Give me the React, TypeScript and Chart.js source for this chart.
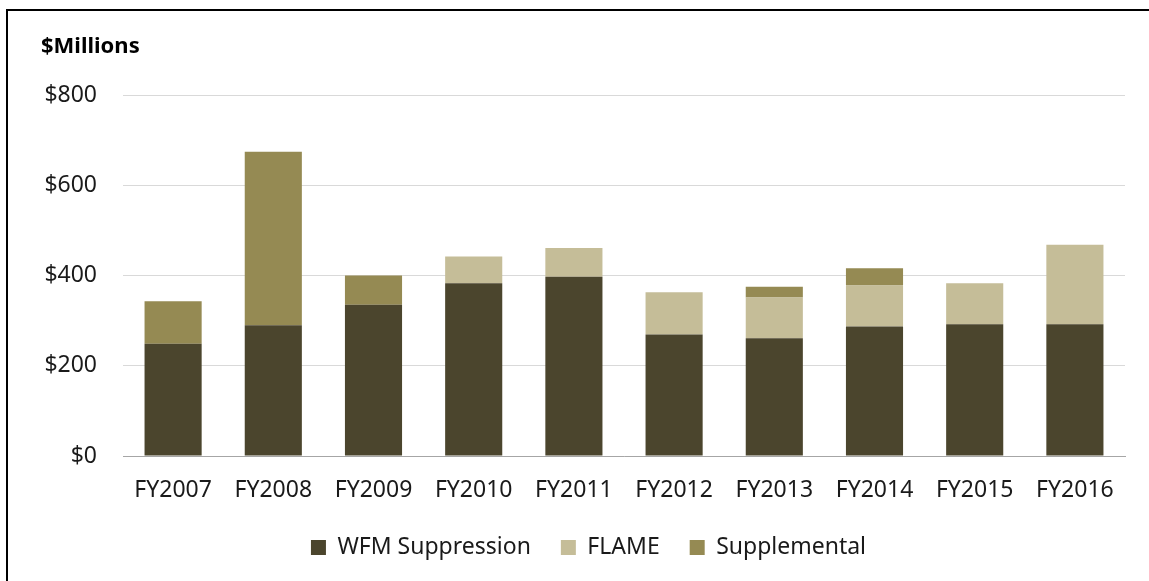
import React, { useEffect, useRef } from "react";
import { Chart, registerables } from "chart.js";

Chart.register(...registerables);

const categories = ["FY2007", "FY2008", "FY2009", "FY2010", "FY2011", "FY2012", "FY2013", "FY2014", "FY2015", "FY2016"];
const wfmSuppression = [249, 290, 335, 383, 397, 269, 261, 287, 292, 292];
const flame = [0, 0, 0, 59, 64, 94, 90, 91, 91, 176];
const supplemental = [94, 384, 65, 0, 0, 0, 24, 38, 0, 0];
const yTicks = [0, 200, 400, 600, 800];
const titleText = "$Millions";

const FONT = "'Noto Sans', 'Open Sans', sans-serif";

const framePlugin = {
  id: "frameAndTitle",
  afterLayout(chart: any) {
    if (chart.legend) {
      chart.legend.left += 26;
      chart.legend.right += 26;
    }
  },
  afterDraw(chart: any) {
    const ctx = chart.ctx;
    ctx.save();
    ctx.strokeStyle = "#000000";
    ctx.lineWidth = 2;
    ctx.strokeRect(7, 10, 1300, 700);
    ctx.fillStyle = "#000000";
    ctx.font = `bold 22px ${FONT}`;
    ctx.textBaseline = "middle";
    ctx.textAlign = "left";
    ctx.fillText(titleText, 41, 47);
    ctx.restore();
  },
};

export default function App() {
  const ref = useRef<HTMLCanvasElement>(null);
  useEffect(() => {
    if (!ref.current) return;
    const chart = new Chart(ref.current, {
      type: "bar",
      data: {
        labels: categories,
        datasets: [
          { label: "WFM Suppression", data: wfmSuppression, backgroundColor: "#4B452D", borderWidth: 0 },
          { label: "FLAME", data: flame, backgroundColor: "#C5BD98", borderWidth: 0 },
          { label: "Supplemental", data: supplemental, backgroundColor: "#958A53", borderWidth: 0 },
        ],
      },
      options: {
        responsive: false,
        animation: false,
        devicePixelRatio: 1,
        layout: { padding: { left: 0, right: 24, top: 95, bottom: 12 } },
        datasets: { bar: { categoryPercentage: 1, barPercentage: 0.57 } },
        plugins: {
          title: { display: false },
          tooltip: { enabled: false },
          legend: {
            position: "bottom",
            labels: {
              boxWidth: 15,
              boxHeight: 15,
              padding: 30,
              color: "#1a1a1a",
              font: { family: FONT, size: 23 },
            },
          },
        },
        scales: {
          x: {
            stacked: true,
            grid: { display: false, drawTicks: false },
            border: { display: true, color: "#a6a6a6", width: 1 },
            ticks: { color: "#1a1a1a", padding: 21, font: { family: FONT, size: 23 } },
            afterFit(scale: any) {
              scale.height = 50;
            },
          },
          y: {
            stacked: true,
            min: 0,
            max: 800,
            afterBuildTicks(scale: any) {
              scale.ticks = yTicks.map((v) => ({ value: v }));
            },
            grid: { color: "#d9d9d9", lineWidth: 1, drawTicks: false },
            border: { display: false },
            ticks: {
              color: "#1a1a1a",
              padding: 26,
              font: { family: FONT, size: 23 },
              callback: (v: any) => "$" + v,
            },
            afterFit(scale: any) {
              scale.width = 123;
            },
          },
        },
      },
      plugins: [framePlugin],
    });
    return () => chart.destroy();
  }, []);
  return (
    <div style={{ position: "absolute", left: 0, top: 0, width: 1149, height: 581, background: "#fff" }}>
      <canvas ref={ref} width={1149} height={581} />
    </div>
  );
}
